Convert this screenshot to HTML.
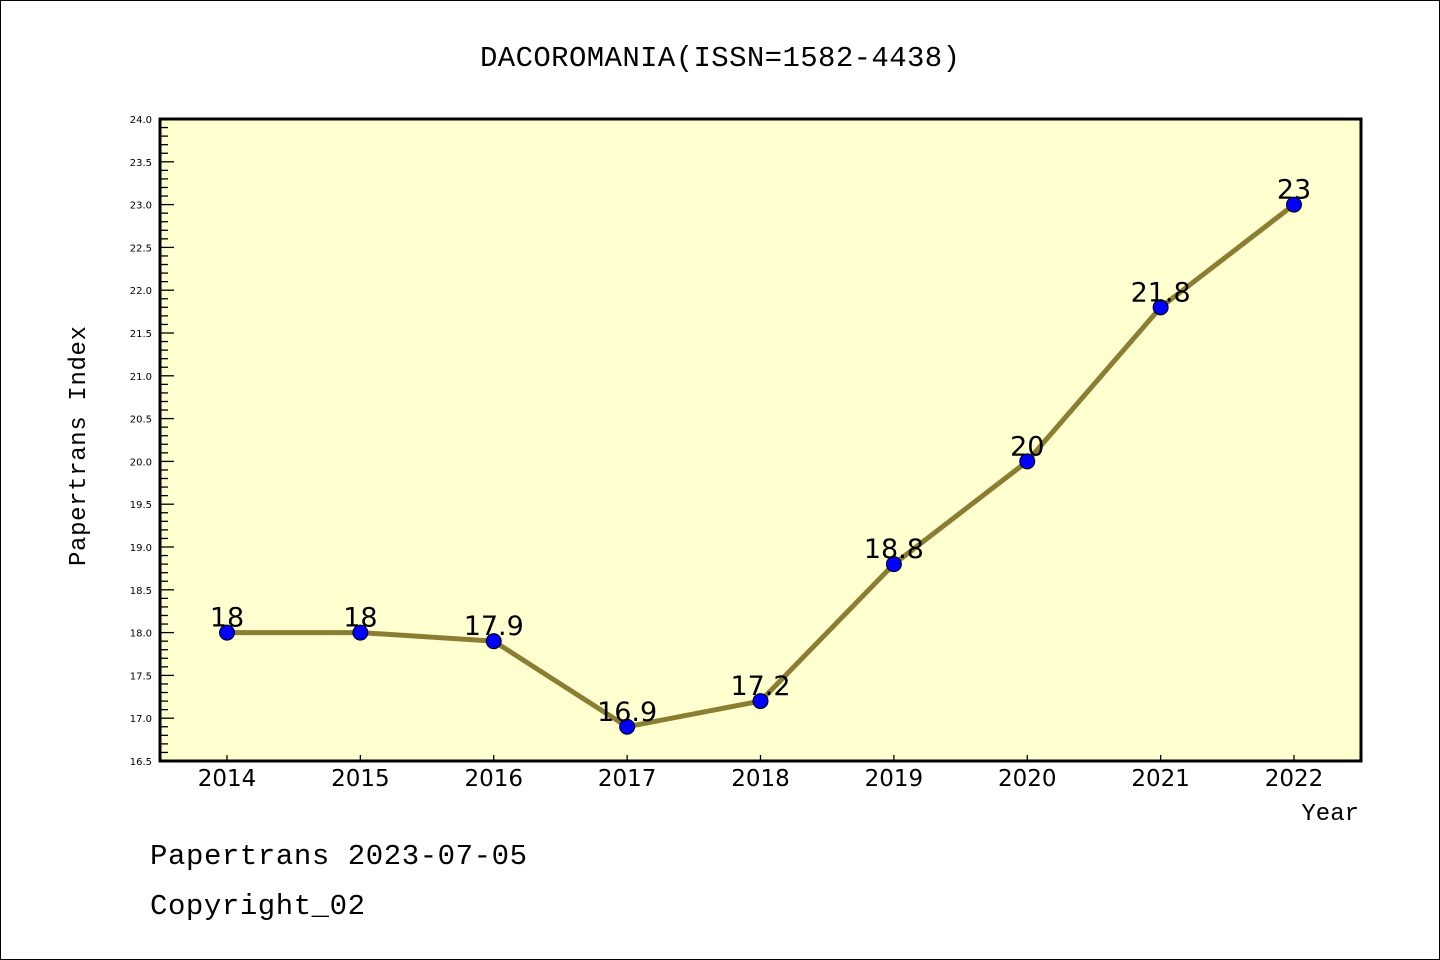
<!DOCTYPE html>
<html><head><meta charset="utf-8"><style>
body{margin:0;background:#fff}
svg{display:block}
text{font-family:"Liberation Mono","DejaVu Sans Mono",monospace}
.s{font-family:"DejaVu Sans","Liberation Sans",sans-serif}
</style></head><body>
<svg id="c" width="1440" height="960">
<rect x="0.5" y="0.5" width="1439" height="959" fill="#fff" stroke="#000"/>
<text x="720" y="66" font-size="29" text-anchor="middle" textLength="480">DACOROMANIA(ISSN=1582-4438)</text>
<rect x="160" y="119" width="1201" height="642" fill="#ffffd0"/>
<g id="ax"></g>
<rect x="160" y="119" width="1201" height="642" fill="none" stroke="#000" stroke-width="3"/>
<text x="85" y="446" font-size="24" text-anchor="middle" transform="rotate(-90 85 446)" textLength="240">Papertrans Index</text>
<text x="1359" y="820" font-size="24" text-anchor="end">Year</text>
<text x="150" y="864" font-size="29" textLength="377">Papertrans 2023-07-05</text>
<text x="150" y="914" font-size="29" textLength="215">Copyright_02</text>
</svg>
<script>
const years=[2014,2015,2016,2017,2018,2019,2020,2021,2022];
const values=[18,18,17.9,16.9,17.2,18.8,20,21.8,23];
const valueLabels=["18","18","17.9","16.9","17.2","18.8","20","21.8","23"];
const yTicks=[16.5,17.0,17.5,18.0,18.5,19.0,19.5,20.0,20.5,21.0,21.5,22.0,22.5,23.0,23.5,24.0];
const NS="http://www.w3.org/2000/svg";
const g=document.getElementById('ax');
function X(yr){return 227+(yr-2014)*(1294-227)/8;}
function Y(v){return 761-(v-16.5)*(642/7.5);}
function mk(t,a){const e=document.createElementNS(NS,t);for(const k in a)e.setAttribute(k,a[k]);g.appendChild(e);return e;}
for(let i=0;i<=75;i++){const v=16.5+i*0.1;const major=i%5===0;
 const l=mk('line',{x1:160,x2:160+(major?14:8),y1:Y(v),y2:Y(v),stroke:'#000','stroke-width':1.3});
 
 }
yTicks.forEach(v=>{const t=mk('text',{x:152,y:Y(v)+4,'font-size':10,'text-anchor':'end','class':'s'});t.textContent=v.toFixed(1);
 
 });
years.forEach(yr=>{const l=mk('line',{x1:X(yr),x2:X(yr),y1:761,y2:755,stroke:'#000','stroke-width':1.3});
 
 
 const t=mk('text',{x:X(yr),y:786,'font-size':23,'text-anchor':'middle','class':'s'});t.textContent=yr;
 
 });
const pl=mk('polyline',{points:years.map((yr,i)=>X(yr)+','+Y(values[i])).join(' '),fill:'none',stroke:'#8b7d32','stroke-width':5});


years.forEach((yr,i)=>{const c=mk('circle',{cx:X(yr),cy:Y(values[i]),r:7.5,fill:'#0000ff',stroke:'#000','stroke-width':1});
 
 
 const t=mk('text',{x:X(yr),y:Y(values[i])-6,'font-size':27,'text-anchor':'middle','class':'s'});t.textContent=valueLabels[i];
 
 });
</script>
</body></html>
